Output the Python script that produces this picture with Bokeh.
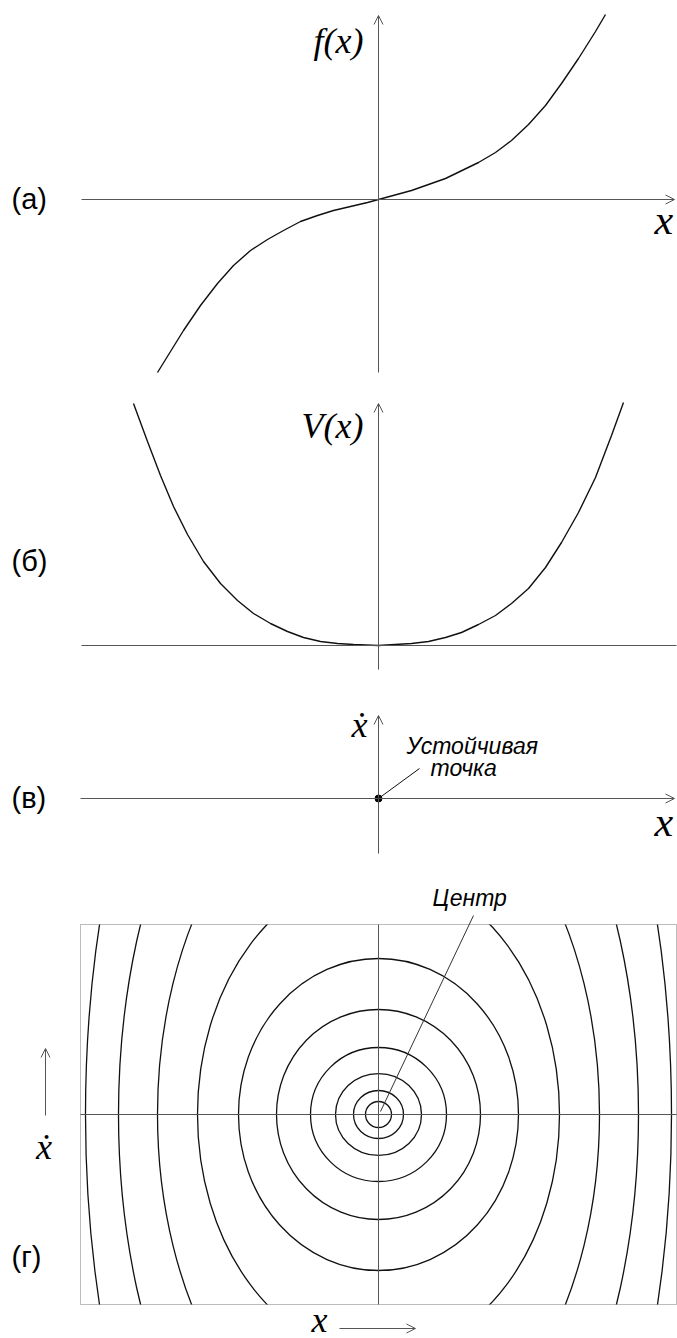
from bokeh.plotting import figure
from bokeh.models import Arrow, OpenHead, Label, Range1d, BoxAnnotation, ColumnDataSource
from bokeh.embed import file_html
from bokeh.resources import INLINE

# ---------------- data ----------------
# (а) restoring force f(x)
f_x = [-2.21, -1.95, -1.78, -1.61, -1.45, -1.28, -1.11, -0.95, -0.78, -0.61, -0.45, -0.28, -0.11, 0.0,
       0.33, 0.67, 1.00, 1.17, 1.33, 1.50, 1.67, 1.83, 2.00, 2.17, 2.27]
f_y = [-1.73, -1.31, -1.06, -0.84, -0.66, -0.51, -0.40, -0.31, -0.22, -0.16, -0.11, -0.07, -0.03, 0.0,
       0.09, 0.21, 0.37, 0.47, 0.59, 0.75, 0.94, 1.16, 1.41, 1.68, 1.85]

# (б) potential V(x)
v_x = [-2.45, -2.31, -2.18, -2.05, -1.91, -1.75, -1.58, -1.41, -1.25, -1.08, -0.91, -0.75, -0.58, -0.41, -0.25, 0.0,
       0.33, 0.50, 0.67, 0.83, 1.00, 1.17, 1.33, 1.50, 1.67, 1.83, 2.00, 2.17, 2.33, 2.45]
v_y = [2.42, 2.04, 1.70, 1.39, 1.11, 0.84, 0.62, 0.45, 0.32, 0.22, 0.14, 0.08, 0.04, 0.02, 0.01, 0.0,
       0.02, 0.04, 0.08, 0.13, 0.21, 0.30, 0.42, 0.57, 0.78, 1.03, 1.33, 1.68, 2.10, 2.43]

# (в) stable fixed point
fixed_x = [0.0]
fixed_y = [0.0]

# (г) closed phase trajectories: half-widths along x and half-heights along dx/dt
orbit_ax = [0.13, 0.25, 0.43, 0.68, 1.02, 1.40, 1.81, 2.21, 2.60, 2.93]
orbit_ay = [0.13, 0.24, 0.41, 0.67, 1.05, 1.56, 2.41, 3.56, 4.72, 6.22]

# phase-plane window
box_x = (-2.98, 2.98)
box_y = (-1.90, 1.90)

# ---------------- canvas ----------------
W, H = 677, 1338
XR = (-3.78, 2.99)
AXIS = "#555555"
INK = "#111111"
SERIF = "Liberation Serif"
SANS = "Liberation Sans"
LIFT = 0.08  # baseline correction for labels

# one canvas, each panel with its own vertical scale (100 px per unit)
p = figure(width=W, height=H, x_range=Range1d(*XR), y_range=Range1d(-11.39, 1.99),
           x_axis_location=None, y_axis_location=None, toolbar_location=None,
           output_backend="svg", min_border=0)
p.min_border_left = p.min_border_right = p.min_border_top = p.min_border_bottom = 0
p.extra_y_ranges = {
    "b": Range1d(-6.93, 6.45),
    "c": Range1d(-5.40, 7.98),
    "d": Range1d(-2.24, 11.14),
}
p.outline_line_color = None
p.xgrid.visible = False
p.ygrid.visible = False
p.background_fill_color = "white"
p.border_fill_color = "white"

A, B, C, D = "default", "b", "c", "d"


def axis_arrow(rn, x0, y0, x1, y1, head=True, color=AXIS):
    end = OpenHead(size=9, line_color=color, line_width=1) if head else None
    p.add_layout(Arrow(end=end, x_start=x0, y_start=y0, x_end=x1, y_end=y1,
                       line_color=color, line_width=1, y_range_name=rn))


def label(rn, x, y, text, size, font=SERIF, style="italic", align="left"):
    p.add_layout(Label(x=x, y=y + LIFT, text=text, text_font=font, text_font_size=size,
                       text_font_style=style, text_align=align, text_baseline="alphabetic",
                       text_color="black", y_range_name=rn))


# ---------------- (г) trajectories, trimmed to the window ----------------
orbits = ColumnDataSource(dict(
    cx=[fixed_x[0]] * len(orbit_ax),
    cy=[fixed_y[0]] * len(orbit_ax),
    w=[2 * a for a in orbit_ax],
    h=[2 * b for b in orbit_ay],
))
p.ellipse(x="cx", y="cy", width="w", height="h", source=orbits, y_range_name=D,
          fill_color=None, line_color=INK, line_width=1.3)
far = 30.0
p.quad(left=[-far, box_x[1], -far, -far], right=[box_x[0], far, far, far],
       bottom=[-far, -far, box_y[1], -far], top=[far, far, far, box_y[0]],
       y_range_name=D, fill_color="white", line_color=None)

# ---------------- (а) ----------------
axis_arrow(A, -2.97, 0, 2.96, 0)
axis_arrow(A, 0, -1.73, 0, 1.84)
p.line(f_x, f_y, line_color=INK, line_width=1.4)
label(A, -0.15, 1.51, "f(x)", "36px", align="right")
label(A, 2.76, -0.28, "x", "42px")
label(A, -3.67, -0.07, "(а)", "29px", font=SANS, style="normal")

# ---------------- (б) ----------------
axis_arrow(B, -2.97, 0, 2.98, 0, head=False)
axis_arrow(B, 0, -0.24, 0, 2.42)
p.line(v_x, v_y, line_color=INK, line_width=1.4, y_range_name=B)
label(B, -0.15, 2.12, "V(x)", "36px", align="right")
label(B, -3.67, 0.77, "(б)", "29px", font=SANS, style="normal")

# ---------------- (в) ----------------
axis_arrow(C, -2.98, 0, 2.96, 0)
axis_arrow(C, 0, -0.55, 0, 0.83)
p.scatter(fixed_x, fixed_y, size=7, color="black", y_range_name=C)
p.add_layout(Arrow(end=None, x_start=0.0, y_start=0.0, x_end=0.41, y_end=0.30,
                   line_color=INK, line_width=1, y_range_name=C))
label(C, -0.11, 0.66, "\u1e8b", "36px", align="right")
label(C, 0.28, 0.45, "Устойчивая", "23px", font=SANS)
label(C, 0.52, 0.23, "точка", "23px", font=SANS)
label(C, 2.76, -0.31, "x", "42px")
label(C, -3.67, -0.07, "(в)", "29px", font=SANS, style="normal")

# ---------------- (г) frame, axes and labels ----------------
p.add_layout(BoxAnnotation(left=box_x[0], right=box_x[1], bottom=box_y[0], top=box_y[1],
                           fill_alpha=0.0, line_color="#222222", line_width=1, y_range_name=D))
axis_arrow(D, box_x[0], 0, box_x[1], 0, head=False)
axis_arrow(D, 0, box_y[0], 0, box_y[1], head=False)
p.add_layout(Arrow(end=None, x_start=0.95, y_start=1.99, x_end=0.02, y_end=0.03,
                   line_color="#333333", line_width=1, y_range_name=D))
label(D, 0.54, 2.09, "Центр", "23px", font=SANS)
axis_arrow(D, -3.33, -0.01, -3.33, 0.66)
label(D, -3.345, -0.40, "\u1e8b", "36px", align="center")
label(D, -0.67, -2.13, "x", "36px")
axis_arrow(D, -0.39, -2.14, 0.37, -2.14)
label(D, -3.67, -1.50, "(г)", "29px", font=SANS, style="normal")

open("out.html", "w").write(file_html(p, INLINE))
